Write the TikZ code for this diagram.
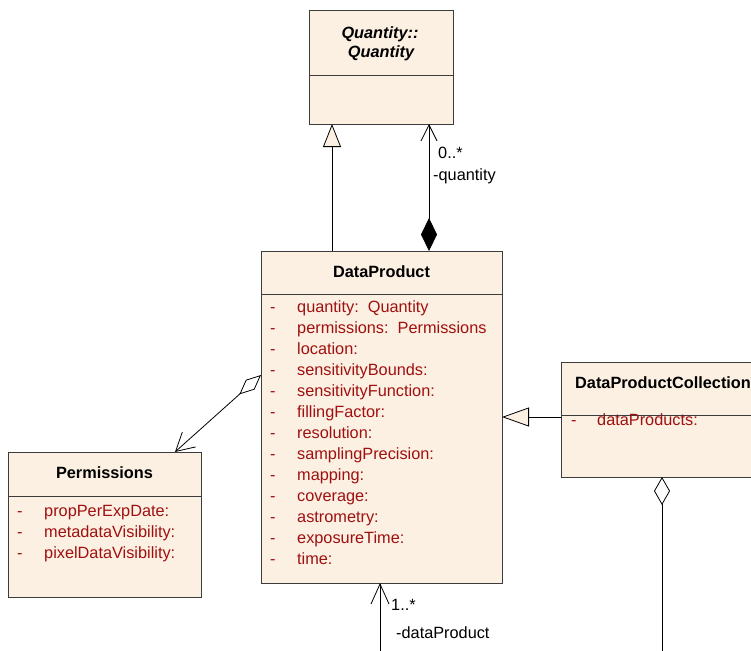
\documentclass[tikz,border=0pt]{standalone}
\usepackage{fontspec}
\setmainfont{Liberation Sans}
\usetikzlibrary{arrows.meta}
\definecolor{boxfill}{RGB}{251,240,226}
\definecolor{attr}{RGB}{160,16,16}
\definecolor{edge}{RGB}{60,60,60}
\tikzset{
  classbox/.style={draw=edge, fill=boxfill, line width=0.9pt, anchor=north west, inner sep=0pt, outer sep=0pt},
  divider/.style={draw=edge, line width=0.9pt},
  ctitle/.style={font=\fontsize{16.3}{20}\selectfont\bfseries, text height=11.7pt, text depth=0pt, inner sep=0pt},
  attrtxt/.style={text=attr, anchor=west, text height=11.7pt, text depth=0pt, inner sep=0pt},
  lbl/.style={anchor=west, text height=11.7pt, text depth=0pt, inner sep=0pt},
  conn/.style={draw=black, line width=0.8pt}
}
\begin{document}
\begin{tikzpicture}[x=1pt, y=-1pt, font=\fontsize{16.3}{21}\selectfont]
\useasboundingbox (0,0) rectangle (751,650);
\clip (0,0) rectangle (751,650);

% Quantity
\node[classbox, minimum width=144pt, minimum height=114pt] (q) at (309,10) {};
\draw[divider] ([yshift=-65pt]q.north west) -- ([yshift=-65pt]q.north east);
\node[ctitle, font=\fontsize{16.3}{20}\selectfont\bfseries\itshape] (qt1) at (380,33) {Quantity::};
\node[ctitle, font=\fontsize{16.3}{20}\selectfont\bfseries\itshape] (qt2) at (381,52) {Quantity};

% DataProduct
\node[classbox, minimum width=241pt, minimum height=332pt] (dp) at (261,251) {};
\draw[divider] ([yshift=-43pt]dp.north west) -- ([yshift=-43pt]dp.north east);
\node[ctitle] (dpt) at (381.5,272) {DataProduct};
\foreach \t [count=\i from 0] in {quantity:\ \ Quantity, permissions:\ \ Permissions, location:, sensitivityBounds:, sensitivityFunction:, fillingFactor:, resolution:, samplingPrecision:, mapping:, coverage:, astrometry:, exposureTime:, time:}{
  \node[attrtxt] (dpd\i) at (270,307+21*\i) {-};
  \node[attrtxt] (dpa\i) at (297,307+21*\i) {\t};
}

% Permissions
\node[classbox, minimum width=193pt, minimum height=145pt] (perm) at (8,452) {};
\draw[divider] ([yshift=-44pt]perm.north west) -- ([yshift=-44pt]perm.north east);
\node[ctitle] (permt) at (104.5,473) {Permissions};
\foreach \t [count=\i from 0] in {propPerExpDate:, metadataVisibility:, pixelDataVisibility:}{
  \node[attrtxt] (pd\i) at (17,511+21*\i) {-};
  \node[attrtxt] (pa\i) at (44,511+21*\i) {\t};
}

% DataProductCollection
\node[classbox, minimum width=204pt, minimum height=115pt] (coll) at (561,362) {};
\draw[divider] ([yshift=-53pt]coll.north west) -- ([yshift=-53pt]coll.north east);
\node[ctitle, anchor=west] (collt) at (575,383) {DataProductCollection};
\node[attrtxt] (cd0) at (571,420) {-};
\node[attrtxt] (ca0) at (597,420) {dataProducts:};

% free ends at the bottom edge
\coordinate (b1) at (380,660);
\coordinate (b2) at (662,660);

% Connectors
\draw[conn, -{Triangle[length=23pt,width=18pt,fill=boxfill]}] ([xshift=71pt]dp.north west) -- ([xshift=23pt]q.south west);
\draw[conn, {Diamond[length=33pt,width=16pt,fill=black]}-{Straight Barb[length=16pt,width=16pt]}] ([xshift=168pt]dp.north west) -- ([xshift=120pt]q.south west);
\draw[conn, {Diamond[length=29pt,width=13pt,fill=white]}-{Straight Barb[length=18pt,width=20pt]}] ([yshift=-124pt]dp.north west) -- ([xshift=167pt]perm.north west);
\draw[conn, -{Triangle[length=27pt,width=19pt,fill=boxfill]}] ([yshift=-55pt]coll.north west) -- ([yshift=-166pt]dp.north east);
\draw[conn, {Diamond[length=28pt,width=16pt,fill=white]}-] ([xshift=101pt]coll.south west) -- (b2);
\draw[conn, -{Straight Barb[length=20pt,width=18pt]}] (b1) -- ([xshift=119pt]dp.south west);

% Labels
\node[lbl] (m1) at (438,153) {0..*};
\node[lbl] (r1) at (433,175) {-quantity};
\node[lbl] (m2) at (391,605) {1..*};
\node[lbl] (r2) at (396,633) {-dataProduct};
\end{tikzpicture}
\end{document}
